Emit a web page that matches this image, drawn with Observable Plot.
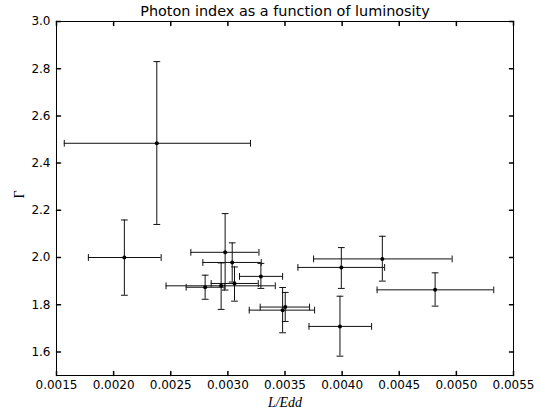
<!DOCTYPE html>
<html><head><meta charset="utf-8">
<script src="https://cdn.jsdelivr.net/npm/d3@7"></script>
<script src="https://cdn.jsdelivr.net/npm/@observablehq/plot@0.6"></script>
<style>body{margin:0;background:#fff} svg{display:block}</style>
</head><body><div id="chart"></div>
<script>
const lum     = [0.002378, 0.002094, 0.002976, 0.003038, 0.002941, 0.003058, 0.003289, 0.002801, 0.003502, 0.003479, 0.003981, 0.003993, 0.004352, 0.004814];
const lumLo   = [0.001568, 0.001779, 0.002676, 0.002781, 0.002459, 0.002854, 0.003102, 0.002635, 0.003283, 0.003187, 0.003710, 0.003613, 0.003750, 0.004306];
const lumHi   = [0.003198, 0.002416, 0.003272, 0.003292, 0.003415, 0.003266, 0.003479, 0.002968, 0.003715, 0.003759, 0.004258, 0.004372, 0.004963, 0.005327];
const gamma   = [2.484, 2.000, 2.022, 1.979, 1.880, 1.890, 1.920, 1.874, 1.790, 1.777, 1.708, 1.958, 1.994, 1.863];
const gammaLo = [2.140, 1.840, 1.862, 1.896, 1.780, 1.815, 1.869, 1.823, 1.729, 1.681, 1.582, 1.869, 1.900, 1.794];
const gammaHi = [2.830, 2.159, 2.186, 2.062, 1.977, 1.960, 1.975, 1.925, 1.852, 1.873, 1.836, 2.042, 2.090, 1.935];

const xTicks = [0.0015, 0.0020, 0.0025, 0.0030, 0.0035, 0.0040, 0.0045, 0.0050, 0.0055];
const yTicks = [1.6, 1.8, 2.0, 2.2, 2.4, 2.6, 2.8, 3.0];
const xDomain = [0.0015, 0.0055];
const yDomain = [1.5, 3.0];

const titleText = "Photon index as a function of luminosity";
const xLabel = "L/Edd";
const yLabel = "Γ";

const data = lum.map((x, i) => ({x, y: gamma[i], x1: lumLo[i], x2: lumHi[i], y1: gammaLo[i], y2: gammaHi[i]}));

const line = {draw(ctx, l) { ctx.moveTo(0, 0); ctx.lineTo(0, -l); }};
const ink = "#111";

const chart = Plot.plot({
  width: 540,
  height: 411,
  marginLeft: 56,
  marginRight: 27,
  marginTop: 21,
  marginBottom: 36,
  style: {fontFamily: "DejaVu Sans", fontSize: "12px", background: "#fff", color: "#000"},
  x: {domain: xDomain, axis: null},
  y: {domain: yDomain, axis: null},
  marks: [
    // error bars
    Plot.ruleY(data, {y: "y", x1: "x1", x2: "x2", stroke: ink, strokeWidth: 1}),
    Plot.ruleX(data, {x: "x", y1: "y1", y2: "y2", stroke: ink, strokeWidth: 1}),
    Plot.vector(data, {x: "x", y: "y1", length: 6, rotate: 90, anchor: "middle", shape: line, stroke: ink, strokeWidth: 1}),
    Plot.vector(data, {x: "x", y: "y2", length: 6, rotate: 90, anchor: "middle", shape: line, stroke: ink, strokeWidth: 1}),
    Plot.vector(data, {x: "x1", y: "y", length: 6, rotate: 0, anchor: "middle", shape: line, stroke: ink, strokeWidth: 1}),
    Plot.vector(data, {x: "x2", y: "y", length: 6, rotate: 0, anchor: "middle", shape: line, stroke: ink, strokeWidth: 1}),
    Plot.dot(data, {x: "x", y: "y", r: 2, fill: "#000", stroke: "none"}),
    // inward ticks on all four sides
    Plot.vector(xTicks, {x: d => d, y: yDomain[0], length: 4, rotate: 0, anchor: "start", shape: line, stroke: "#000"}),
    Plot.vector(xTicks, {x: d => d, y: yDomain[1], length: 4, rotate: 180, anchor: "start", shape: line, stroke: "#000"}),
    Plot.vector(yTicks, {y: d => d, x: xDomain[0], length: 4, rotate: 90, anchor: "start", shape: line, stroke: "#000"}),
    Plot.vector(yTicks, {y: d => d, x: xDomain[1], length: 4, rotate: 270, anchor: "start", shape: line, stroke: "#000"}),
    Plot.frame({stroke: "#000", strokeWidth: 1}),
    // tick labels
    Plot.axisX(xTicks, {anchor: "bottom", tickSize: 0, tickPadding: 5, tickFormat: d => d.toFixed(4), fontSize: 12, label: null}),
    Plot.axisY(yTicks, {anchor: "left", tickSize: 0, tickPadding: 6, tickFormat: d => d.toFixed(1), fontSize: 12, label: null}),
    // axis labels and title
    Plot.text([xLabel], {frameAnchor: "bottom", dy: 27, text: d => d, fontFamily: "Liberation Serif", fontStyle: "italic", fontSize: 14, lineAnchor: "middle"}),
    Plot.text([yLabel], {frameAnchor: "left", dx: -37, text: d => d, fontFamily: "Liberation Serif", fontSize: 14, rotate: -90, lineAnchor: "middle"}),
    Plot.text([titleText], {frameAnchor: "top", dy: -10, text: d => d, fontFamily: "DejaVu Sans", fontSize: 14.4, lineAnchor: "middle"})
  ]
});
document.getElementById("chart").appendChild(chart);
</script>
</body></html>
